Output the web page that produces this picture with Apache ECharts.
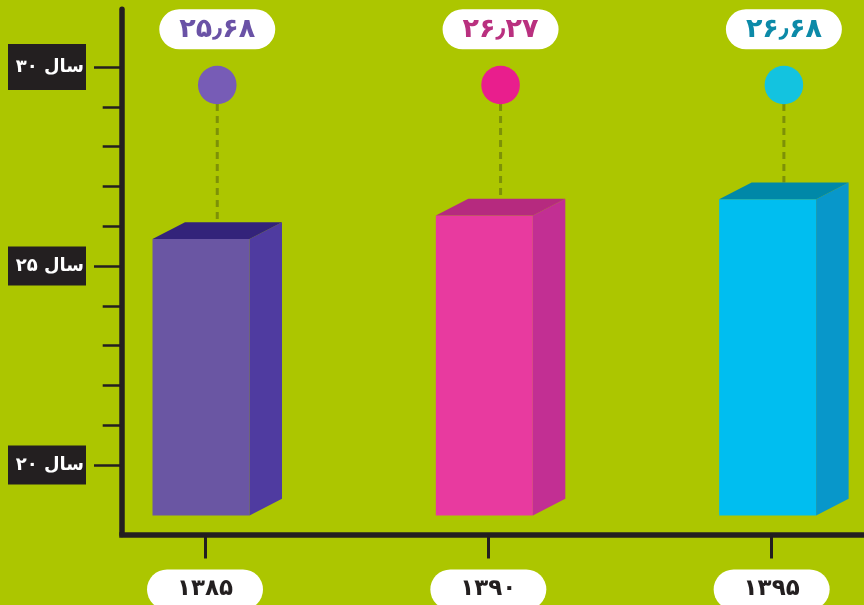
<!DOCTYPE html>
<html>
<head>
<meta charset="utf-8">
<script src="https://cdn.jsdelivr.net/npm/echarts@6/dist/echarts.min.js"></script>
<style>
  html, body { margin: 0; padding: 0; background: #acc600; }
  #chart { width: 864px; height: 605px; }
</style>
</head>
<body>
<div id="chart"></div>
<script>
// ---- data ----
const categories = ['۱۳۸۵', '۱۳۹۰', '۱۳۹۵'];
const values = [25.68, 26.27, 26.68];
const valueLabels = ['۲۵٫۶۸', '۲۶٫۲۷', '۲۶٫۶۸'];
const yMajorTicks = [20, 25, 30];
const yMajorLabels = ['۲۰ سال', '۲۵ سال', '۳۰ سال'];
const yMinorTicks = [21, 22, 23, 24, 26, 27, 28, 29];
const barBase = 18.73;
const yMin = 18.254;
const yMax = 31.45;
const xMin = -0.293;
const xMax = 2.326;

// ---- styles ----
const FONT = 'DejaVu Sans';
const INK = '#231f20';
const palette = [
  { front: '#6a56a3', side: '#4f3ba0', top: '#33237a', dot: '#775cb6', text: '#6a52a6' },
  { front: '#e83a9f', side: '#c22f93', top: '#b62a7f', dot: '#e91e8d', text: '#b9307f' },
  { front: '#00bef0', side: '#0897ca', top: '#0088a8', dot: '#13c3e0', text: '#0c8aa8' }
];

const chart = echarts.init(document.getElementById('chart'), null, { renderer: 'canvas' });

function renderItem(params, api) {
  const i = api.value(0);
  const v = api.value(1);
  const top = api.coord([i, v]);
  const bot = api.coord([i, barBase]);
  const c = palette[params.dataIndex];
  const w = 97, dx = 32.5, dy = 16.7;
  const cx = top[0] - 4;
  const L = cx - w / 2, R = cx + w / 2;
  const ty = top[1], by = bot[1];
  const capX = (L + R + dx) / 2;
  const gy = params.coordSys.y;
  const dotY = gy + 75.7;
  return {
    type: 'group',
    children: [
      { type: 'line', shape: { x1: capX, y1: dotY + 19, x2: capX, y2: ty - dy },
        style: { stroke: '#7d9107', lineWidth: 3, lineDash: [7, 5] } },
      { type: 'rect', shape: { x: L, y: ty, width: w, height: by - ty }, style: { fill: c.front } },
      { type: 'polygon', shape: { points: [[R, ty], [R + dx, ty - dy], [R + dx, by - dy], [R, by]] }, style: { fill: c.side } },
      { type: 'polygon', shape: { points: [[L, ty], [R, ty], [R + dx, ty - dy], [L + dx, ty - dy]] }, style: { fill: c.top } },
      { type: 'circle', shape: { cx: capX, cy: dotY, r: 19.3 }, style: { fill: c.dot } },
      { type: 'rect', shape: { x: capX - 58, y: gy, width: 116, height: 40, r: 20 }, style: { fill: '#ffffff' } },
      { type: 'text', x: capX, y: gy + 21,
        style: { text: valueLabels[params.dataIndex], fill: c.text, font: 'bold 27px "' + FONT + '"',
                 align: 'center', verticalAlign: 'middle' } }
    ]
  };
}

const catIdx = categories.map(function (_, i) { return i; });

chart.setOption({
  backgroundColor: '#acc600',
  animation: false,
  grid: { left: 122, right: 0, top: 9.3, bottom: 605 - 534.5, containLabel: false, outerBoundsMode: 'none' },
  xAxis: {
    type: 'value', min: xMin, max: xMax, position: 'bottom',
    axisLine: { show: true, onZero: false, lineStyle: { color: INK, width: 5.5, cap: 'square' } },
    axisTick: { show: true, customValues: catIdx, length: 24, lineStyle: { color: INK, width: 3 } },
    axisLabel: { show: true, customValues: catIdx, margin: 35,
      formatter: function (v) { return '{p|' + categories[Math.round(v)] + '}'; },
      rich: { p: { backgroundColor: '#ffffff', borderRadius: 20, width: 116, height: 40, align: 'center',
                   fontSize: 23, fontWeight: 'bold', color: INK, fontFamily: FONT } } },
    splitLine: { show: false }
  },
  yAxis: [
    { type: 'value', min: yMin, max: yMax, position: 'left',
      axisLine: { show: true, onZero: false, lineStyle: { color: INK, width: 5.5 } },
      axisTick: { show: true, customValues: yMajorTicks, length: 28, lineStyle: { color: INK, width: 2.5 } },
      axisLabel: { show: true, customValues: yMajorTicks, margin: 36,
        formatter: function (v) {
          const k = yMajorTicks.indexOf(Math.round(v));
          const t = k >= 0 ? yMajorLabels[k] : '';
          return (Math.round(v) === 30 ? '{b|' : '{a|') + t + '}';
        },
        rich: {
          a: { backgroundColor: INK, color: '#ffffff', width: 76, height: 39, align: 'right',
               padding: [0, 2, 0, 0], fontSize: 18, fontWeight: 'bold', fontFamily: FONT },
          b: { backgroundColor: INK, color: '#ffffff', width: 76, height: 46, align: 'right',
               padding: [0, 2, 0, 0], fontSize: 18, fontWeight: 'bold', fontFamily: FONT }
        } },
      splitLine: { show: false } },
    { type: 'value', min: yMin, max: yMax, position: 'left',
      axisLine: { show: false, onZero: false },
      axisTick: { show: true, customValues: yMinorTicks, length: 19.3, lineStyle: { color: INK, width: 2.5 } },
      axisLabel: { show: false }, splitLine: { show: false } }
  ],
  series: [
    { type: 'custom', xAxisIndex: 0, yAxisIndex: 0, renderItem: renderItem,
      data: values.map(function (v, i) { return [i, v]; }), clip: false }
  ]
});
</script>
</body>
</html>
